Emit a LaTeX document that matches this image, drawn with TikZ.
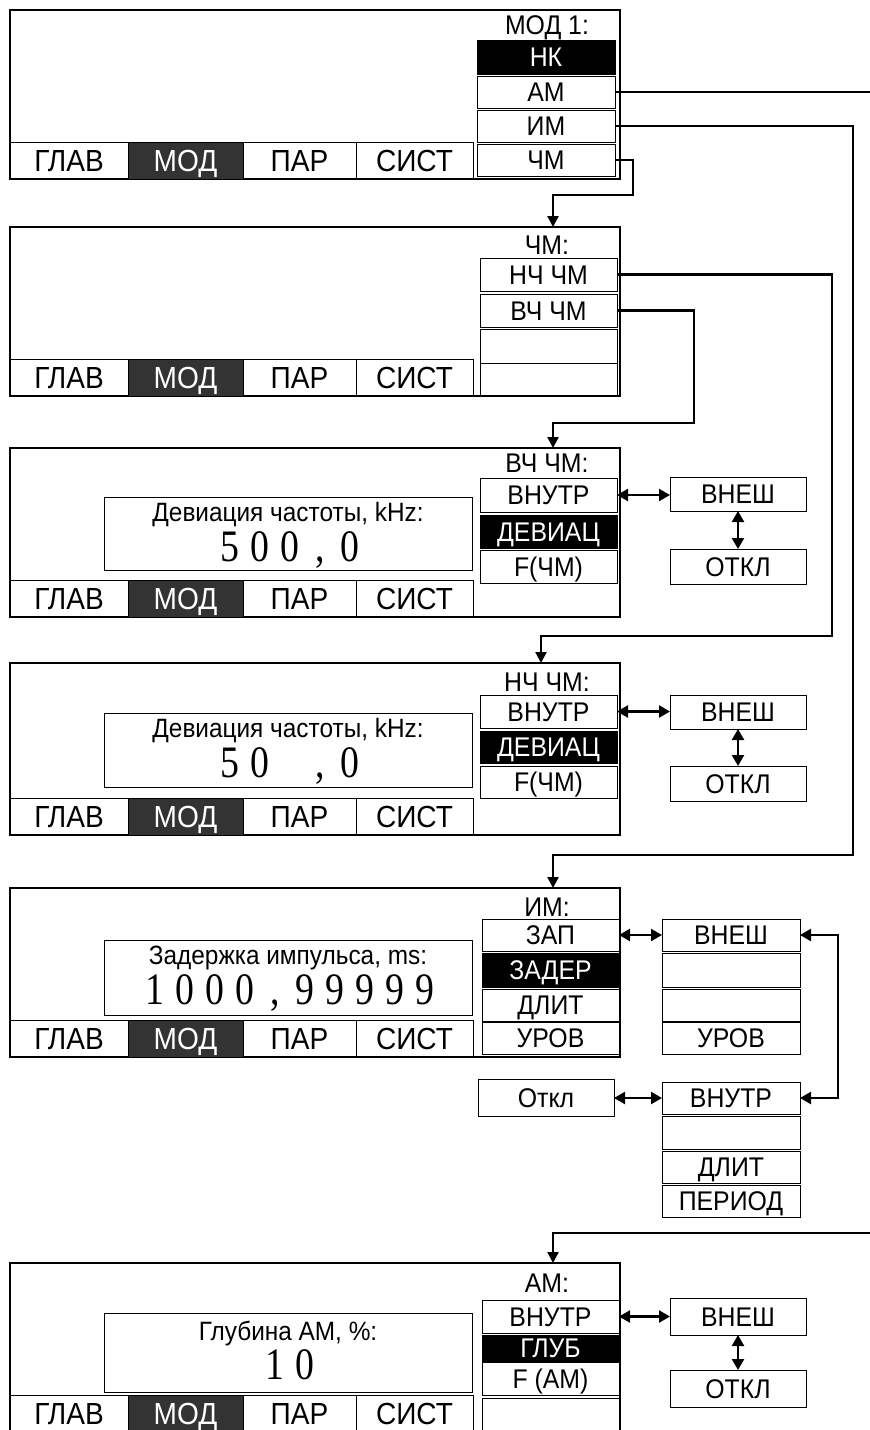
\documentclass[tikz,border=0pt]{standalone}
\usepackage{fontspec}
\setmainfont{Liberation Sans}[FakeStretch=0.92]
\newfontfamily\digfont{Liberation Serif}[FakeStretch=0.84]
\usetikzlibrary{arrows.meta}
\definecolor{tabdark}{RGB}{51,51,51}
\newcommand\dg[1]{\makebox[30pt]{#1}}
\tikzset{
 every node/.style={inner sep=0pt, outer sep=0pt},
 screen/.style={draw, line width=1.4pt, anchor=north west, minimum width=610},
 tabbox/.style={draw, line width=1pt, anchor=north west, minimum height=37,
   text height=22pt, text depth=0pt, font=\fontsize{30.5}{30}\selectfont},
 tabsel/.style={tabbox, fill=tabdark, text=white},
 btn/.style={draw, line width=1pt, anchor=north west, minimum width=137,
   text height=19.5pt, text depth=0pt, font=\fontsize{27}{27}\selectfont},
 btnsel/.style={btn, fill=black, text=white},
 ttl/.style={text height=19.5pt, text depth=0pt, font=\fontsize{27}{27}\selectfont},
 valbox/.style={draw, line width=1pt, anchor=north west, minimum width=368},
 lbl/.style={text height=19pt, text depth=0pt, font=\fontsize{26.5}{26}\selectfont},
 val/.style={text height=30pt, text depth=0pt, font=\digfont\fontsize{45}{45}\selectfont},
 conn/.style={line width=2.3pt, -{Triangle[length=11pt,width=11pt]}},
 wire/.style={line width=2.3pt},
 dbl/.style={line width=2.3pt, {Triangle[length=11pt,width=12pt]}-{Triangle[length=11pt,width=12pt]}},
}
\newcommand\tabrow[2]{%
 \node[tabbox, minimum width=118] (#1g) at (10,#2) {ГЛАВ};
 \node[tabsel, minimum width=115] (#1m) at (128,#2) {МОД};
 \node[tabbox, minimum width=113] (#1p) at (243,#2) {ПАР};
 \node[tabbox, minimum width=117] (#1s) at (356,#2) {СИСТ};
}
\begin{document}
\begin{tikzpicture}[x=1pt,y=-1pt]
\clip (0,0) rectangle (870,1430);
\fill[white] (0,0) rectangle (870,1430);

% ---------- Screen 1 ----------
\node[screen, minimum height=169] (s1) at (10,10) {};
\tabrow{s1}{142}
\node[ttl] (s1t) at (547,25) {МОД 1:};
\node[btnsel, minimum width=138, minimum height=34] (s1nk) at (477,40) {НК};
\node[btn, minimum width=138, minimum height=32] (s1am) at (477,76) {АМ};
\node[btn, minimum width=138, minimum height=32] (s1im) at (477,110) {ИМ};
\node[btn, minimum width=138, minimum height=32] (s1fm) at (477,144) {ЧМ};

% ---------- Screen 2 ----------
\node[screen, minimum height=169] (s2) at (10,227) {};
\tabrow{s2}{359}
\node[ttl] (s2t) at (547,245) {ЧМ:};
\node[btn, minimum height=33] (s2lf) at (480,258) {НЧ ЧМ};
\node[btn, minimum height=33] (s2hf) at (480,294) {ВЧ ЧМ};
\node[btn, minimum height=34] (s2e1) at (480,329) {};
\node[btn, minimum height=33] (s2e2) at (480,363) {};

% ---------- Screen 3 ----------
\node[screen, minimum height=169] (s3) at (10,448) {};
\tabrow{s3}{580}
\node[ttl] (s3t) at (547,463) {ВЧ ЧМ:};
\node[btn, minimum height=34] (s3vn) at (480,478) {ВНУТР};
\node[btnsel, minimum height=33] (s3dev) at (480,515) {ДЕВИАЦ};
\node[btn, minimum height=33] (s3f) at (480,550) {F(ЧМ)};
\node[valbox, minimum height=73] (s3box) at (104,497) {};
\node[lbl] (s3lbl) at (288,512) {Девиация частоты, kHz:};
\node[val] (s3val) at (290,546) {\dg5\dg0\dg0\dg,\dg0};
\node[btn, minimum width=136, minimum height=34] (s3ext) at (670,477) {ВНЕШ};
\node[btn, minimum width=136, minimum height=35] (s3off) at (670,549) {ОТКЛ};
\draw[dbl] (s3vn.east) -- (s3vn.east -| s3ext.west);
\draw[dbl] (s3ext.south) -- (s3off.north);

% ---------- Screen 4 ----------
\node[screen, minimum height=172] (s4) at (10,663) {};
\tabrow{s4}{798}
\node[ttl] (s4t) at (547,682) {НЧ ЧМ:};
\node[btn, minimum height=33] (s4vn) at (480,695) {ВНУТР};
\node[btnsel, minimum height=32] (s4dev) at (480,731) {ДЕВИАЦ};
\node[btn, minimum height=32] (s4f) at (480,766) {F(ЧМ)};
\node[valbox, minimum height=74] (s4box) at (104,713) {};
\node[lbl] (s4lbl) at (288,728) {Девиация частоты, kHz:};
\node[val] (s4val) at (290,762) {\dg5\dg0\dg{ }\dg,\dg0};
\node[btn, minimum width=136, minimum height=34] (s4ext) at (670,695) {ВНЕШ};
\node[btn, minimum width=136, minimum height=35] (s4off) at (670,766) {ОТКЛ};
\draw[dbl] (s4vn.east) -- (s4vn.east -| s4ext.west);
\draw[dbl] (s4ext.south) -- (s4off.north);

% ---------- Screen 5 ----------
\node[screen, minimum height=169] (s5) at (10,888) {};
\tabrow{s5}{1020}
\node[ttl] (s5t) at (547,907) {ИМ:};
\node[btn, minimum height=32] (s5zap) at (482,919) {ЗАП};
\node[btnsel, minimum height=34] (s5del) at (482,953) {ЗАДЕР};
\node[btn, minimum height=32] (s5dl) at (482,989) {ДЛИТ};
\node[btn, minimum height=32] (s5ur) at (482,1022) {УРОВ};
\node[valbox, minimum height=75] (s5box) at (104,940) {};
\node[lbl] (s5lbl) at (288,955) {Задержка импульса, ms:};
\node[val] (s5val) at (290,989) {\dg1\dg0\dg0\dg0\dg,\dg9\dg9\dg9\dg9\dg9};
\node[btn, minimum width=138, minimum height=32] (s5ext) at (662,919) {ВНЕШ};
\node[btn, minimum width=138, minimum height=34] (s5e1) at (662,953) {};
\node[btn, minimum width=138, minimum height=32] (s5e2) at (662,989) {};
\node[btn, minimum width=138, minimum height=32] (s5ur2) at (662,1022) {УРОВ};
\draw[dbl] (s5zap.east) -- (s5zap.east -| s5ext.west);

\node[btn, minimum width=136, minimum height=37] (s5off) at (478,1079) {Откл};
\node[btn, minimum width=138, minimum height=32] (s5int) at (662,1082) {ВНУТР};
\node[btn, minimum width=138, minimum height=33] (s5e3) at (662,1116) {};
\node[btn, minimum width=138, minimum height=32] (s5dl2) at (662,1151) {ДЛИТ};
\node[btn, minimum width=138, minimum height=32] (s5per) at (662,1185) {ПЕРИОД};
\draw[dbl] (s5off.east |- s5int.east) -- (s5int.west);
\draw[dbl] (s5ext.east) -| (838,1098) -- (s5int.east);

% ---------- Screen 6 ----------
\node[screen, minimum height=190] (s6) at (10,1263) {};
\tabrow{s6}{1395}
\node[ttl] (s6t) at (547,1283) {АМ:};
\node[btn, minimum height=33] (s6vn) at (482,1300) {ВНУТР};
\node[btnsel, minimum height=26] (s6gl) at (482,1335) {ГЛУБ};
\node[btn, minimum height=33] (s6f) at (482,1362) {F (АМ)};
\node[btn, minimum height=40] (s6e) at (482,1398) {};
\node[valbox, minimum height=79] (s6box) at (104,1313) {};
\node[lbl] (s6lbl) at (288,1331) {Глубина АМ, \%:};
\node[val] (s6val) at (290,1364) {\dg1\dg0};
\node[btn, minimum width=136, minimum height=37] (s6ext) at (670,1298) {ВНЕШ};
\node[btn, minimum width=136, minimum height=37] (s6off) at (670,1370) {ОТКЛ};
\draw[dbl] (s6vn.east) -- (s6vn.east -| s6ext.west);
\draw[dbl] (s6ext.south) -- (s6off.north);

% ---------- Connectors ----------
\coordinate (s2in) at (553,227);
\coordinate (s3in) at (553,448);
\coordinate (s4in) at (541,663);
\coordinate (s5in) at (553,888);
\coordinate (s6in) at (553,1263);
\coordinate (amout) at (872,92);
\coordinate (amin) at (872,1233);

\draw[wire] (s1am.east) -- (amout);
\draw[conn] (amin) -| (s6in);
\draw[conn] (s1fm.east) -| (633,195) -| (s2in);
\draw[conn] (s1im.east) -| (853,855) -| (s5in);
\draw[conn] (s2hf.east) -| (694,423) -| (s3in);
\draw[conn] (s2lf.east) -| (832,636) -| (s4in);
\end{tikzpicture}
\end{document}
